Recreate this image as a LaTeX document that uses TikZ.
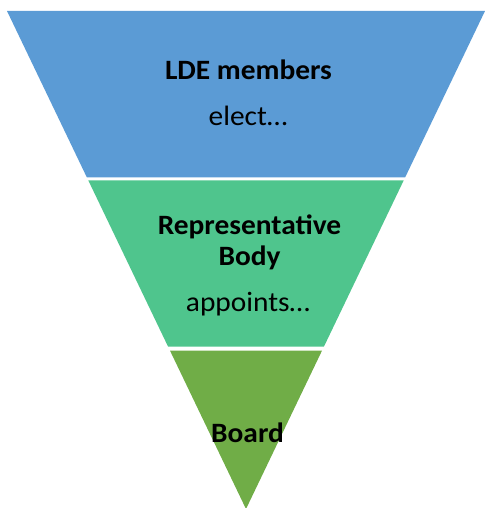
\documentclass[tikz,border=0pt]{standalone}
\usepackage{fontspec}
\setmainfont{Carlito}
\usetikzlibrary{calc}

\definecolor{ldeblue}{HTML}{5B9BD5}
\definecolor{repgreen}{HTML}{4FC58D}
\definecolor{boardgreen}{HTML}{70AD47}

\begin{document}
\begin{tikzpicture}
  [x=1pt,y=-1pt,every node/.style={anchor=base,inner sep=0pt,xscale=1.05,font=\fontsize{28}{32}\selectfont}]
  \useasboundingbox (0,0) rectangle (484,508);
  \coordinate (tl) at (7,11);
  \coordinate (tr) at (485,11);
  \coordinate (tip) at (246,509);

  % the three bands, with a thin white gap between them
  \foreach \col/\from/\to in {ldeblue/0/.334,repgreen/.340/.674,boardgreen/.682/1}
    \fill[\col] ($(tl)!\from!(tip)$) -- ($(tr)!\from!(tip)$) -- ($(tr)!\to!(tip)$) -- ($(tl)!\to!(tip)$) -- cycle;

  \node[font=\fontsize{28}{32}\selectfont\bfseries] (lde) at (248.5,80) {LDE members};
  \node (elect) at (248,125) {elect…};
  \node[font=\fontsize{28}{32}\selectfont\bfseries] (rep) at (249.5,234) {Representative};
  \node[font=\fontsize{28}{32}\selectfont\bfseries] (body) at (249.5,265) {Body};
  \node (appoints) at (248,311) {appoints…};
  \node[font=\fontsize{28}{32}\selectfont\bfseries] (board) at (247.5,442) {Board};
\end{tikzpicture}
\end{document}
